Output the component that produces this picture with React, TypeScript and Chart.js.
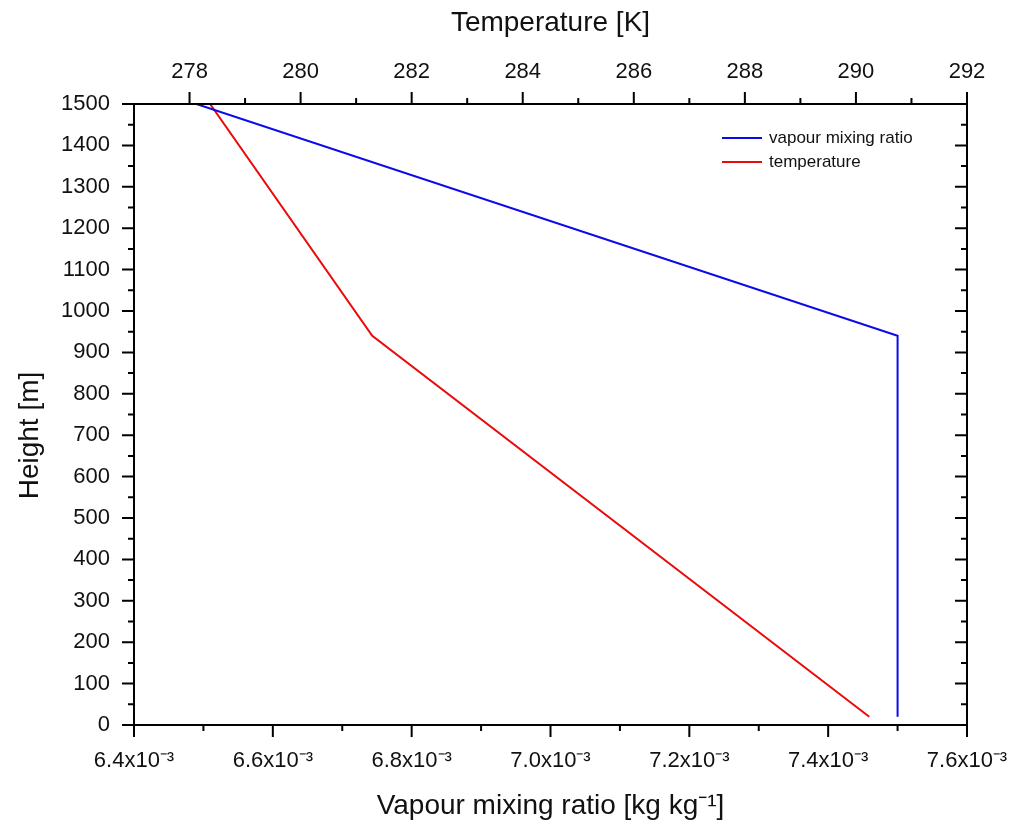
import React, { useEffect, useRef } from 'react';
import { Chart, registerables } from 'chart.js';

Chart.register(...registerables);

// ---- data ----
const mixingHeights = [1500, 940, 20];
const mixingRatio = [0.00649, 0.0075, 0.0075];
const tempHeights = [1500, 940, 20];
const temperature = [278.37, 281.29, 290.24];

const seriesLabels = ['vapour mixing ratio', 'temperature'];
const seriesColors = ['rgb(10,10,235)', 'rgb(235,10,10)'];

// ---- ticks ----
const mixingTicks = [0.0064, 0.0066, 0.0068, 0.007, 0.0072, 0.0074, 0.0076];
const mixingTickLabels = ['6.4x10⁻³', '6.6x10⁻³', '6.8x10⁻³', '7.0x10⁻³', '7.2x10⁻³', '7.4x10⁻³', '7.6x10⁻³'];
const tempTicks = [278, 280, 282, 284, 286, 288, 290, 292];
const tempTickLabels = ['278', '280', '282', '284', '286', '288', '290', '292'];
const heightTicks = [0, 100, 200, 300, 400, 500, 600, 700, 800, 900, 1000, 1100, 1200, 1300, 1400, 1500];
const heightTickLabels = ['0', '100', '200', '300', '400', '500', '600', '700', '800', '900', '1000', '1100', '1200', '1300', '1400', '1500'];

const xTitle = 'Vapour mixing ratio [kg kg⁻¹]';
const x2Title = 'Temperature [K]';
const yTitle = 'Height [m]';

const FONT = "'Liberation Sans', Arial, sans-serif";
const TEXT = '#111';

const frameTicksPlugin = {
  id: 'frameTicks',
  afterDraw(chart: any) {
    const { ctx, chartArea, scales } = chart;
    const { left, right, top, bottom } = chartArea;
    ctx.save();
    ctx.strokeStyle = '#000';
    ctx.lineWidth = 2;
    ctx.strokeRect(left, top, right - left, bottom - top);

    const collect = (scale: any) => {
      const majors = scale.ticks.map((t: any) => t.value);
      const minors: number[] = [];
      for (let i = 0; i < majors.length - 1; i++) minors.push((majors[i] + majors[i + 1]) / 2);
      return { majors, minors };
    };
    const MAJ = 12;
    const MIN = 6;

    ctx.beginPath();
    // bottom axis
    const xs = scales.x;
    const xt = collect(xs);
    xt.majors.forEach((v: number) => { const p = xs.getPixelForValue(v); ctx.moveTo(p, bottom); ctx.lineTo(p, bottom + MAJ); });
    xt.minors.forEach((v: number) => { const p = xs.getPixelForValue(v); ctx.moveTo(p, bottom); ctx.lineTo(p, bottom + MIN); });
    // top axis
    const x2s = scales.x2;
    const x2t = collect(x2s);
    x2t.majors.forEach((v: number) => { const p = x2s.getPixelForValue(v); ctx.moveTo(p, top); ctx.lineTo(p, top - MAJ); });
    x2t.minors.forEach((v: number) => { const p = x2s.getPixelForValue(v); ctx.moveTo(p, top); ctx.lineTo(p, top - MIN); });
    // left & right axis
    const ys = scales.y;
    const yt = collect(ys);
    yt.majors.forEach((v: number) => {
      const p = ys.getPixelForValue(v);
      ctx.moveTo(left, p); ctx.lineTo(left - MAJ, p);
      ctx.moveTo(right, p); ctx.lineTo(right - MAJ, p);
    });
    yt.minors.forEach((v: number) => {
      const p = ys.getPixelForValue(v);
      ctx.moveTo(left, p); ctx.lineTo(left - MIN, p);
      ctx.moveTo(right, p); ctx.lineTo(right - MIN, p);
    });
    ctx.stroke();

    // y title
    ctx.fillStyle = TEXT;
    ctx.font = `28px ${FONT}`;
    ctx.textAlign = 'center';
    ctx.textBaseline = 'middle';
    ctx.translate(30, (top + bottom) / 2 + 21);
    ctx.rotate(-Math.PI / 2);
    ctx.fillText(yTitle, 0, 0);
    ctx.restore();

    // legend
    ctx.save();
    ctx.font = `17px ${FONT}`;
    ctx.textAlign = 'left';
    ctx.textBaseline = 'middle';
    ctx.lineWidth = 2;
    chart.data.datasets.forEach((ds: any, i: number) => {
      const lx = right - 245;
      const ly = top + 34 + i * 24;
      ctx.strokeStyle = ds.borderColor;
      ctx.beginPath();
      ctx.moveTo(lx, ly);
      ctx.lineTo(lx + 40, ly);
      ctx.stroke();
      ctx.fillStyle = TEXT;
      ctx.fillText(ds.label, lx + 47, ly);
    });
    ctx.restore();
  },
};

export default function App() {
  const canvasRef = useRef<HTMLCanvasElement | null>(null);

  useEffect(() => {
    document.body.style.margin = '0';
    const canvas = canvasRef.current;
    if (!canvas) return;

    const chart = new Chart(canvas, {
      type: 'scatter',
      data: {
        datasets: [
          {
            label: seriesLabels[0],
            data: mixingRatio.map((q, i) => ({ x: q, y: mixingHeights[i] })),
            borderColor: seriesColors[0],
            backgroundColor: seriesColors[0],
            showLine: true,
            pointRadius: 0,
            borderWidth: 2,
            xAxisID: 'x',
            yAxisID: 'y',
          },
          {
            label: seriesLabels[1],
            data: temperature.map((t, i) => ({ x: t, y: tempHeights[i] })),
            borderColor: seriesColors[1],
            backgroundColor: seriesColors[1],
            showLine: true,
            pointRadius: 0,
            borderWidth: 2,
            xAxisID: 'x2',
            yAxisID: 'y',
          },
        ],
      },
      options: {
        animation: false,
        responsive: false,
        devicePixelRatio: 1,
        layout: { padding: { left: 0, right: 44, top: 0, bottom: 0 } },
        plugins: {
          legend: { display: false },
          tooltip: { enabled: false },
        },
        scales: {
          x: {
            type: 'linear',
            position: 'bottom',
            min: 0.0064,
            max: 0.0076,
            afterBuildTicks: (s: any) => { s.ticks = mixingTicks.map((v) => ({ value: v })); },
            afterFit: (s: any) => { s.height = 106; s.paddingLeft = 0; s.paddingRight = 0; },
            ticks: {
              callback: (_v: any, i: number) => mixingTickLabels[i],
              font: { family: FONT, size: 22 },
              color: TEXT,
              padding: 23,
              maxRotation: 0,
              autoSkip: false,
            },
            grid: { display: false, drawTicks: false },
            border: { display: false },
            title: { display: true, text: xTitle, font: { family: FONT, size: 28 }, color: TEXT, padding: { top: 0, bottom: 8 } },
          },
          x2: {
            type: 'linear',
            position: 'top',
            min: 277,
            max: 292,
            afterBuildTicks: (s: any) => { s.ticks = tempTicks.map((v) => ({ value: v })); },
            afterFit: (s: any) => { s.height = 104; s.paddingLeft = 0; s.paddingRight = 0; },
            ticks: {
              callback: (_v: any, i: number) => tempTickLabels[i],
              font: { family: FONT, size: 22 },
              color: TEXT,
              padding: 19,
              maxRotation: 0,
              autoSkip: false,
            },
            grid: { display: false, drawTicks: false },
            border: { display: false },
            title: { display: true, text: x2Title, font: { family: FONT, size: 28 }, color: TEXT, padding: { top: 6, bottom: 0 } },
          },
          y: {
            type: 'linear',
            position: 'left',
            min: 0,
            max: 1500,
            afterBuildTicks: (s: any) => { s.ticks = heightTicks.map((v) => ({ value: v })); },
            afterFit: (s: any) => { s.width = 134; s.paddingTop = 0; s.paddingBottom = 0; },
            ticks: {
              callback: (_v: any, i: number) => heightTickLabels[i],
              font: { family: FONT, size: 22 },
              color: TEXT,
              padding: 24,
              autoSkip: false,
            },
            grid: { display: false, drawTicks: false },
            border: { display: false },
            title: { display: false },
          },
        },
      },
      plugins: [frameTicksPlugin],
    } as any);

    return () => chart.destroy();
  }, []);

  return (
    <div style={{ width: 1011, height: 831, background: '#fff' }}>
      <canvas ref={canvasRef} width={1011} height={831} style={{ display: 'block' }} />
    </div>
  );
}
